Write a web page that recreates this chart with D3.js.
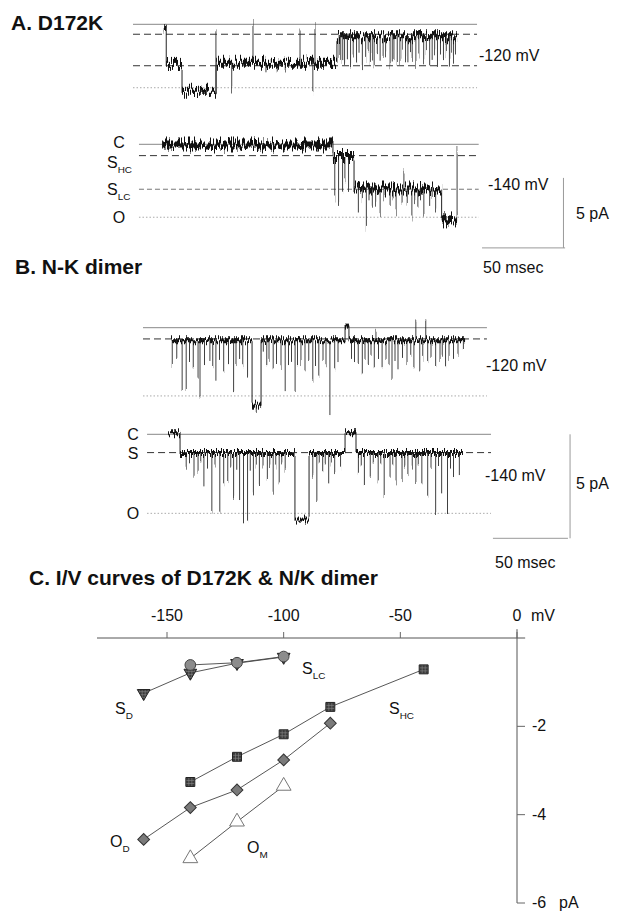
<!DOCTYPE html>
<html><head><meta charset="utf-8">
<script src="https://cdn.jsdelivr.net/npm/d3@7"></script>
<style>
body{margin:0;background:#fff}
svg{display:block;background:#fff}
text{font-family:"Liberation Sans",Arial,Helvetica,sans-serif;fill:#111}
</style>
</head><body>
<svg id="fig" width="621" height="913"></svg>
<script>
// ---------- Panel A: D172K single-channel records (time ms, current pA) ----------
const a120Levels = [0, -0.71, -2.96, -4.53];          // C, substates, O
const a120Span = [0, 207];
const a120Dwells = [[18.5, 20, -0.4], [20, 29.5, -2.9], [29.5, 50, -4.75], [50, 122.7, -2.75], [122.7, 195, -0.85]];
const a120Flickers = [
  [19, 0], [49.9, -0.5], [72.2, 0.1], [100.5, -0.3], [109.5, -0.2], [59.4, -4.8], [80, -3.5], [86.8, -3.3],
  [91.6, -3.3], [108.2, -4.7], [124, -2.4], [125, -2.9], [126.2, -2.2], [127.3, -2.9], [129, -2.5], [130.9, -3.0],
  [132.5, -2.3], [134.5, -2.8], [136, -2.1], [138, -3.2], [140, -2.4], [141.5, -2.0], [142.8, -2.9], [144, -2.3],
  [145.1, -3.0], [147, -2.2], [148.7, -2.6], [150.5, -2.4], [152, -2.0], [154.7, -3.0], [156, -2.3], [157, -2.2],
  [159, -2.6], [160.6, -2.9], [162, -2.1], [164, -2.5], [165.4, -3.0], [167, -2.2], [168, -2.4], [170.2, -2.9],
  [172, -2.3], [174.9, -2.5], [176.5, -2.2], [178.5, -3.0], [180, -2.4], [181.5, -2.0], [183.2, -2.9], [185, -2.3],
  [186.8, -2.7], [188.5, -2.2], [190.4, -2.95], [191.5, -2.1], [192.8, -2.6], [194, -2.3]
];
const a140Levels = [0, -0.81, -3.21, -5.21];
const a140Labels = ["C", "S|HC", "S|LC", "O"];
const a140Span = [3.6, 208];
const a140Dwells = [[17.5, 120.3, -0.05], [120.3, 133, -0.8], [133, 185.7, -3.2], [185.7, 195, -5.4]];
const a140Flickers = [
  [121.4, -3.8], [123.7, -4.4], [126.1, -3.6], [127.5, -2.5], [129.7, -3.4], [135.6, -4.8], [138, -4.2], [140.4, -5.9],
  [142, -4.0], [144, -4.6], [146, -4.1], [148.7, -5.2], [151, -4.0], [154.7, -4.4], [156.5, -4.0], [158.3, -5.0],
  [161.9, -4.3], [163, -1.8], [165, -4.1], [167.8, -5.3], [169.5, -4.2], [171.4, -4.6], [173, -4.0], [175, -5.1],
  [178.5, -4.4], [180, -3.9], [182.1, -4.8], [195, -0.3]
];

// ---------- Panel B: N-K dimer records ----------
const b120Levels = [0, -0.54, -3.28];
const b120Span = [0, 229.3];
const b120Dwells = [[18.7, 72.7, -0.6], [72.7, 78.7, -3.7], [78.7, 134.7, -0.6], [134.7, 137.3, 0.1], [137.3, 214.7, -0.6]];
const b120Flickers = [
  [19.5, -1.84], [22.5, -1.5], [26.1, -2.9], [28.8, -2.9], [31, -1.6], [33.5, -2.0], [36.7, -2.4], [38, -3.4],
  [41, -1.7], [44.6, -1.55], [46.5, -1.9], [48.6, -2.5], [51, -1.5], [53.8, -2.1], [57, -1.8], [60.4, -3.0],
  [62, -1.7], [64.4, -1.6], [66.5, -1.9], [69.7, -2.35], [75.5, -4.0], [80.2, -1.2], [82.5, -1.8], [84, -1.5],
  [86.8, -2.0], [89, -1.6], [92, -1.9], [94.8, -3.0], [97, -1.7], [99, -1.5], [101.4, -3.0], [103, -1.8],
  [105.3, -1.7], [108, -2.0], [110.5, -1.6], [113.2, -2.5], [115, -1.9], [117.2, -2.35], [120, -1.6], [122, -1.9],
  [124.6, -4.2], [127.8, -2.0], [130, -1.7], [139, -1.5], [141, -1.7], [143.5, -1.6], [146.2, -2.2], [148, -1.5],
  [150.2, -1.7], [152, -1.4], [154.2, -1.95], [155.3, -0.1], [157, -1.6], [159.4, -1.9], [162, -1.5], [164, -1.8],
  [166, -2.5], [168, -1.6], [170, -2.0], [173, -1.5], [176, -1.7], [178.5, -1.4], [180.6, -1.95], [181.9, 0.3],
  [184.5, -2.1], [186.5, -1.5], [188.5, 0.3], [189.8, -1.7], [192, -1.5], [195.1, -1.8], [198, -1.6], [199.5, -1.3],
  [201.7, -2.0], [204, -1.5], [207, -1.45], [210, -1.3], [213.6, -1.15]
];
const b140Levels = [0, -0.88, -3.8];
const b140Labels = ["C", "S", "O"];
const b140Span = [2.7, 232];
const b140Dwells = [[16.7, 24.7, 0.05], [24.7, 101.3, -0.9], [101.3, 110.7, -4.1], [110.7, 134.7, -0.9], [134.7, 142, 0.1], [142, 213.3, -0.9]];
const b140Flickers = [
  [28.8, -1.56], [31, -1.3], [34, -2.04], [36.7, -1.8], [38.5, -1.4], [40.6, -2.36], [43, -1.6], [45.9, -3.72],
  [48, -1.5], [51.2, -3.72], [53.8, -2.5], [56.5, -2.2], [58.5, -1.6], [60.4, -3.0], [62.5, -1.8], [64.4, -3.16],
  [67, -4.28], [69.7, -4.2], [71.5, -1.7], [73.6, -2.84], [75.5, -1.6], [77.6, -2.5], [80, -1.5], [82.9, -2.1],
  [84.5, -1.5], [86.8, -2.76], [88.5, -1.6], [90.8, -2.36], [92.5, -1.4], [94.8, -1.8], [113.2, -2.04],
  [115.9, -3.24], [117.5, -1.5], [119.8, -1.87], [121.5, -1.4], [123.8, -2.36], [125.5, -1.5], [127.8, -1.96],
  [131.7, -1.7], [143.6, -1.8], [145.5, -1.4], [147.6, -2.36], [151.5, -2.04], [153.5, -1.5], [156.8, -2.36],
  [158.5, -1.5], [160.8, -2.92], [164.7, -2.04], [166.5, -1.5], [168.7, -2.36], [172.7, -2.2], [174.5, -1.5],
  [176.6, -1.96], [179.5, -1.6], [181.9, -2.36], [183.5, -1.4], [185.9, -2.5], [189.8, -3.0], [192, -1.7],
  [195.1, -3.88], [197, -1.6], [199.1, -2.84], [203, -3.88], [205, -1.6], [207, -2.2], [210.9, -1.96]
];

// ---------- Panel C: I/V relations (mV, pA) ----------
const ivTicksX = [-150, -100, -50, 0];
const ivTicksY = [-2, -4, -6];
const sLcV = [-140, -120, -100], sLcI = [-0.61, -0.56, -0.42];
const sDV = [-160, -140, -120, -100], sDI = [-1.25, -0.79, -0.57, -0.43];
const sHcV = [-140, -120, -100, -80, -40], sHcI = [-3.26, -2.69, -2.18, -1.56, -0.71];
const oDV = [-160, -140, -120, -100, -80], oDI = [-4.56, -3.84, -3.44, -2.76, -1.93];
const oMV = [-140, -120, -100], oMI = [-4.99, -4.16, -3.35];

const svg = d3.select("#fig");
const defs = svg.append("defs");
// recording noise: vertical-only jitter of the current traces
function noiseFilter(id, amp, seed) {
  const f = defs.append("filter").attr("id", id).attr("x", "-2%").attr("y", "-50%")
    .attr("width", "104%").attr("height", "200%").attr("color-interpolation-filters", "sRGB");
  f.append("feTurbulence").attr("type", "fractalNoise").attr("baseFrequency", "1.1 0.04")
    .attr("numOctaves", 3).attr("seed", seed).attr("result", "t");
  f.append("feColorMatrix").attr("in", "t").attr("type", "matrix")
    .attr("values", "0 0 0 0 0.5  0 2.4 0 0 -0.7  0 0 1 0 0  0 0 0 0 1").attr("result", "m");
  f.append("feDisplacementMap").attr("in", "SourceGraphic").attr("in2", "m").attr("scale", amp)
    .attr("xChannelSelector", "R").attr("yChannelSelector", "G");
}
noiseFilter("noiseA", 10, 7);
noiseFilter("noiseB", 6, 11);
const hatch = defs.append("pattern").attr("id", "hatch").attr("width", 3).attr("height", 3).attr("patternUnits", "userSpaceOnUse");
hatch.append("rect").attr("width", 3).attr("height", 3).attr("fill", "#3a3a3a");
hatch.append("path").attr("d", "M0,1.5H3M1.5,0V3").attr("stroke", "#888").attr("stroke-width", 0.6);

const xA = d3.scaleLinear().domain([0, 260]).range([133, 133 + 260 * 1.662]);
const xB = d3.scaleLinear().domain([0, 290]).range([143, 143 + 290 * 1.5]);
const yA1 = d3.scaleLinear().domain([0, -5]).range([24.3, 94.3]);
const yA2 = d3.scaleLinear().domain([0, -5]).range([144.3, 214.3]);
const yB1 = d3.scaleLinear().domain([0, -5]).range([327.7, 431.7]);
const yB2 = d3.scaleLinear().domain([0, -5]).range([434.3, 538.3]);

const lineStyle = {
  solid: {stroke: "#888", dash: null, w: 1},
  dash: {stroke: "#333", dash: "7,4", w: 1},
  fdash: {stroke: "#777", dash: "5,3", w: 1},
  dot: {stroke: "#aaa", dash: "1.5,2", w: 1}
};

function trace(x, y, levels, kinds, span, dwells, flickers, band, filt) {
  const g = svg.append("g");
  levels.forEach((lv, i) => {
    const st = lineStyle[kinds[i]];
    g.append("line").attr("x1", x(span[0])).attr("x2", x(span[1]))
      .attr("y1", y(lv)).attr("y2", y(lv))
      .attr("stroke", st.stroke).attr("stroke-width", st.w)
      .attr("stroke-dasharray", st.dash);
  });
  const tg = g.append("g").attr("filter", `url(#${filt})`);
  const pts = [];
  dwells.forEach(d => { pts.push([d[0], d[2]]); pts.push([d[1], d[2]]); });
  tg.append("path").attr("d", d3.line().x(p => x(p[0])).y(p => y(p[1]))(pts))
    .attr("fill", "none").attr("stroke", "#222").attr("stroke-width", 1);
  tg.selectAll(".dw").data(dwells).join("line")
    .attr("x1", d => x(d[0])).attr("x2", d => x(d[1]))
    .attr("y1", d => y(d[2])).attr("y2", d => y(d[2]))
    .attr("stroke", "#111").attr("stroke-width", band);
  const levelAt = t => { const d = dwells.find(d => t >= d[0] && t <= d[1]); return d ? d[2] : 0; };
  tg.selectAll(".fl").data(flickers).join("line")
    .attr("x1", d => x(d[0])).attr("x2", d => x(d[0]))
    .attr("y1", d => y(levelAt(d[0]))).attr("y2", d => y(d[1]))
    .attr("stroke", "#2a2a2a").attr("stroke-width", 0.9);
  return g;
}

function txt(x, y, s, size, weight, anchor) {
  const t = svg.append("text").attr("x", x).attr("y", y).attr("font-size", size)
    .attr("font-weight", weight || "normal").attr("text-anchor", anchor || "start");
  const [main, sub] = s.split("|");
  t.append("tspan").text(main);
  if (sub) t.append("tspan").attr("font-size", size * 0.62).attr("dy", size * 0.3).text(sub);
  return t;
}

// Panel A
txt(11, 30, "A. D172K", 21, "bold");
trace(xA, yA1, a120Levels, ["solid", "dash", "dash", "dot"], a120Span, a120Dwells, a120Flickers, 6, "noiseA");
txt(479, 61, "-120 mV", 16);
trace(xA, yA2, a140Levels, ["solid", "dash", "fdash", "dot"], a140Span, a140Dwells, a140Flickers, 7, "noiseA");
const a140LabelDy = [3.7, 12.3, 5.7, 5.7];
a140Levels.forEach((lv, i) => {
  const s = a140Labels[i], sub = s.includes("|");
  txt(sub ? 107 : 119, yA2(lv) + a140LabelDy[i], s, 16, "normal", sub ? "start" : "middle");
});
txt(488, 190, "-140 mV", 16);
svg.append("line").attr("x1", xA(259)).attr("x2", xA(259)).attr("y1", yA2(-2.4)).attr("y2", yA2(-7.4)).attr("stroke", "#999");
svg.append("line").attr("x1", xA(210)).attr("x2", xA(260)).attr("y1", yA2(-7.4)).attr("y2", yA2(-7.4)).attr("stroke", "#999");
txt(576, 219, "5 pA", 16);
txt(483, 273, "50 msec", 16);

// Panel B
txt(15, 274, "B. N-K dimer", 21, "bold");
trace(xB, yB1, b120Levels, ["solid", "dash", "dot"], b120Span, b120Dwells, b120Flickers, 4, "noiseB");
txt(486, 371, "-120 mV", 16);
trace(xB, yB2, b140Levels, ["solid", "dash", "dot"], b140Span, b140Dwells, b140Flickers, 4, "noiseB");
b140Levels.forEach((lv, i) => txt(133, yB2(lv) + 6, b140Labels[i], 16, "normal", "middle"));
txt(485, 481, "-140 mV", 16);
svg.append("line").attr("x1", xB(284.7)).attr("x2", xB(284.7)).attr("y1", yB2(0)).attr("y2", yB2(-5)).attr("stroke", "#999");
svg.append("line").attr("x1", xB(233.3)).attr("x2", xB(283.3)).attr("y1", yB2(-5)).attr("y2", yB2(-5)).attr("stroke", "#999");
txt(576, 489, "5 pA", 16);
txt(495, 568, "50 msec", 16);

// Panel C
txt(29, 585, "C. I/V curves of D172K & N/K dimer", 21, "bold");
const xV = d3.scaleLinear().domain([-150, 0]).range([167, 517]);
const yI = d3.scaleLinear().domain([0, -6]).range([638, 903]);
const ax = svg.append("g");
ax.append("line").attr("x1", xV(-180)).attr("x2", xV(3.5)).attr("y1", yI(0)).attr("y2", yI(0)).attr("stroke", "#555");
ax.append("line").attr("x1", xV(0)).attr("x2", xV(0)).attr("y1", yI(0.2)).attr("y2", yI(-6)).attr("stroke", "#555");
ax.selectAll(".tx").data(ivTicksX).join("line")
  .attr("x1", d => xV(d)).attr("x2", d => xV(d)).attr("y1", yI(0)).attr("y2", yI(0) - 6).attr("stroke", "#666");
ax.selectAll(".lx").data(ivTicksX).join("text")
  .attr("x", d => xV(d)).attr("y", 621).attr("text-anchor", "middle").attr("font-size", 16).text(d => d);
txt(531, 621, "mV", 16);
ax.selectAll(".ty").data(ivTicksY).join("line")
  .attr("x1", xV(0)).attr("x2", xV(0) + 8).attr("y1", d => yI(d)).attr("y2", d => yI(d)).attr("stroke", "#666");
ax.selectAll(".ly").data(ivTicksY).join("text")
  .attr("x", xV(0) + 15).attr("y", d => yI(d) + 5).attr("font-size", 16).text(d => d);
txt(559, 908, "pA", 16);

const ivLine = d3.line().x(d => xV(d[0])).y(d => yI(d[1]));
function series(V, I, sym, size, fill, stroke, rot) {
  const pts = V.map((v, i) => [v, I[i]]);
  svg.append("path").attr("d", ivLine(pts)).attr("fill", "none").attr("stroke", "#444").attr("stroke-width", 0.9);
  svg.selectAll(null).data(pts).join("path")
    .attr("transform", d => `translate(${xV(d[0])},${yI(d[1])}) rotate(${rot})`)
    .attr("d", d3.symbol(sym, size)).attr("fill", fill).attr("stroke", stroke).attr("stroke-width", 1);
}
series(sDV, sDI, d3.symbolTriangle, 70, "url(#hatch)", "#222", 180);
series(sLcV, sLcI, d3.symbolCircle, 90, "#8c8c8c", "#444", 0);
series(sHcV, sHcI, d3.symbolSquare, 80, "url(#hatch)", "#222", 0);
series(oDV, oDI, d3.symbolSquare, 70, "#7a7a7a", "#333", 45);
series(oMV, oMI, d3.symbolTriangle, 95, "#fff", "#777", 0);

txt(302, 674, "S|LC", 16);
txt(115, 714, "S|D", 16);
txt(389, 714, "S|HC", 16);
txt(110, 847, "O|D", 16);
txt(247, 853, "O|M", 16);
</script>
</body></html>
